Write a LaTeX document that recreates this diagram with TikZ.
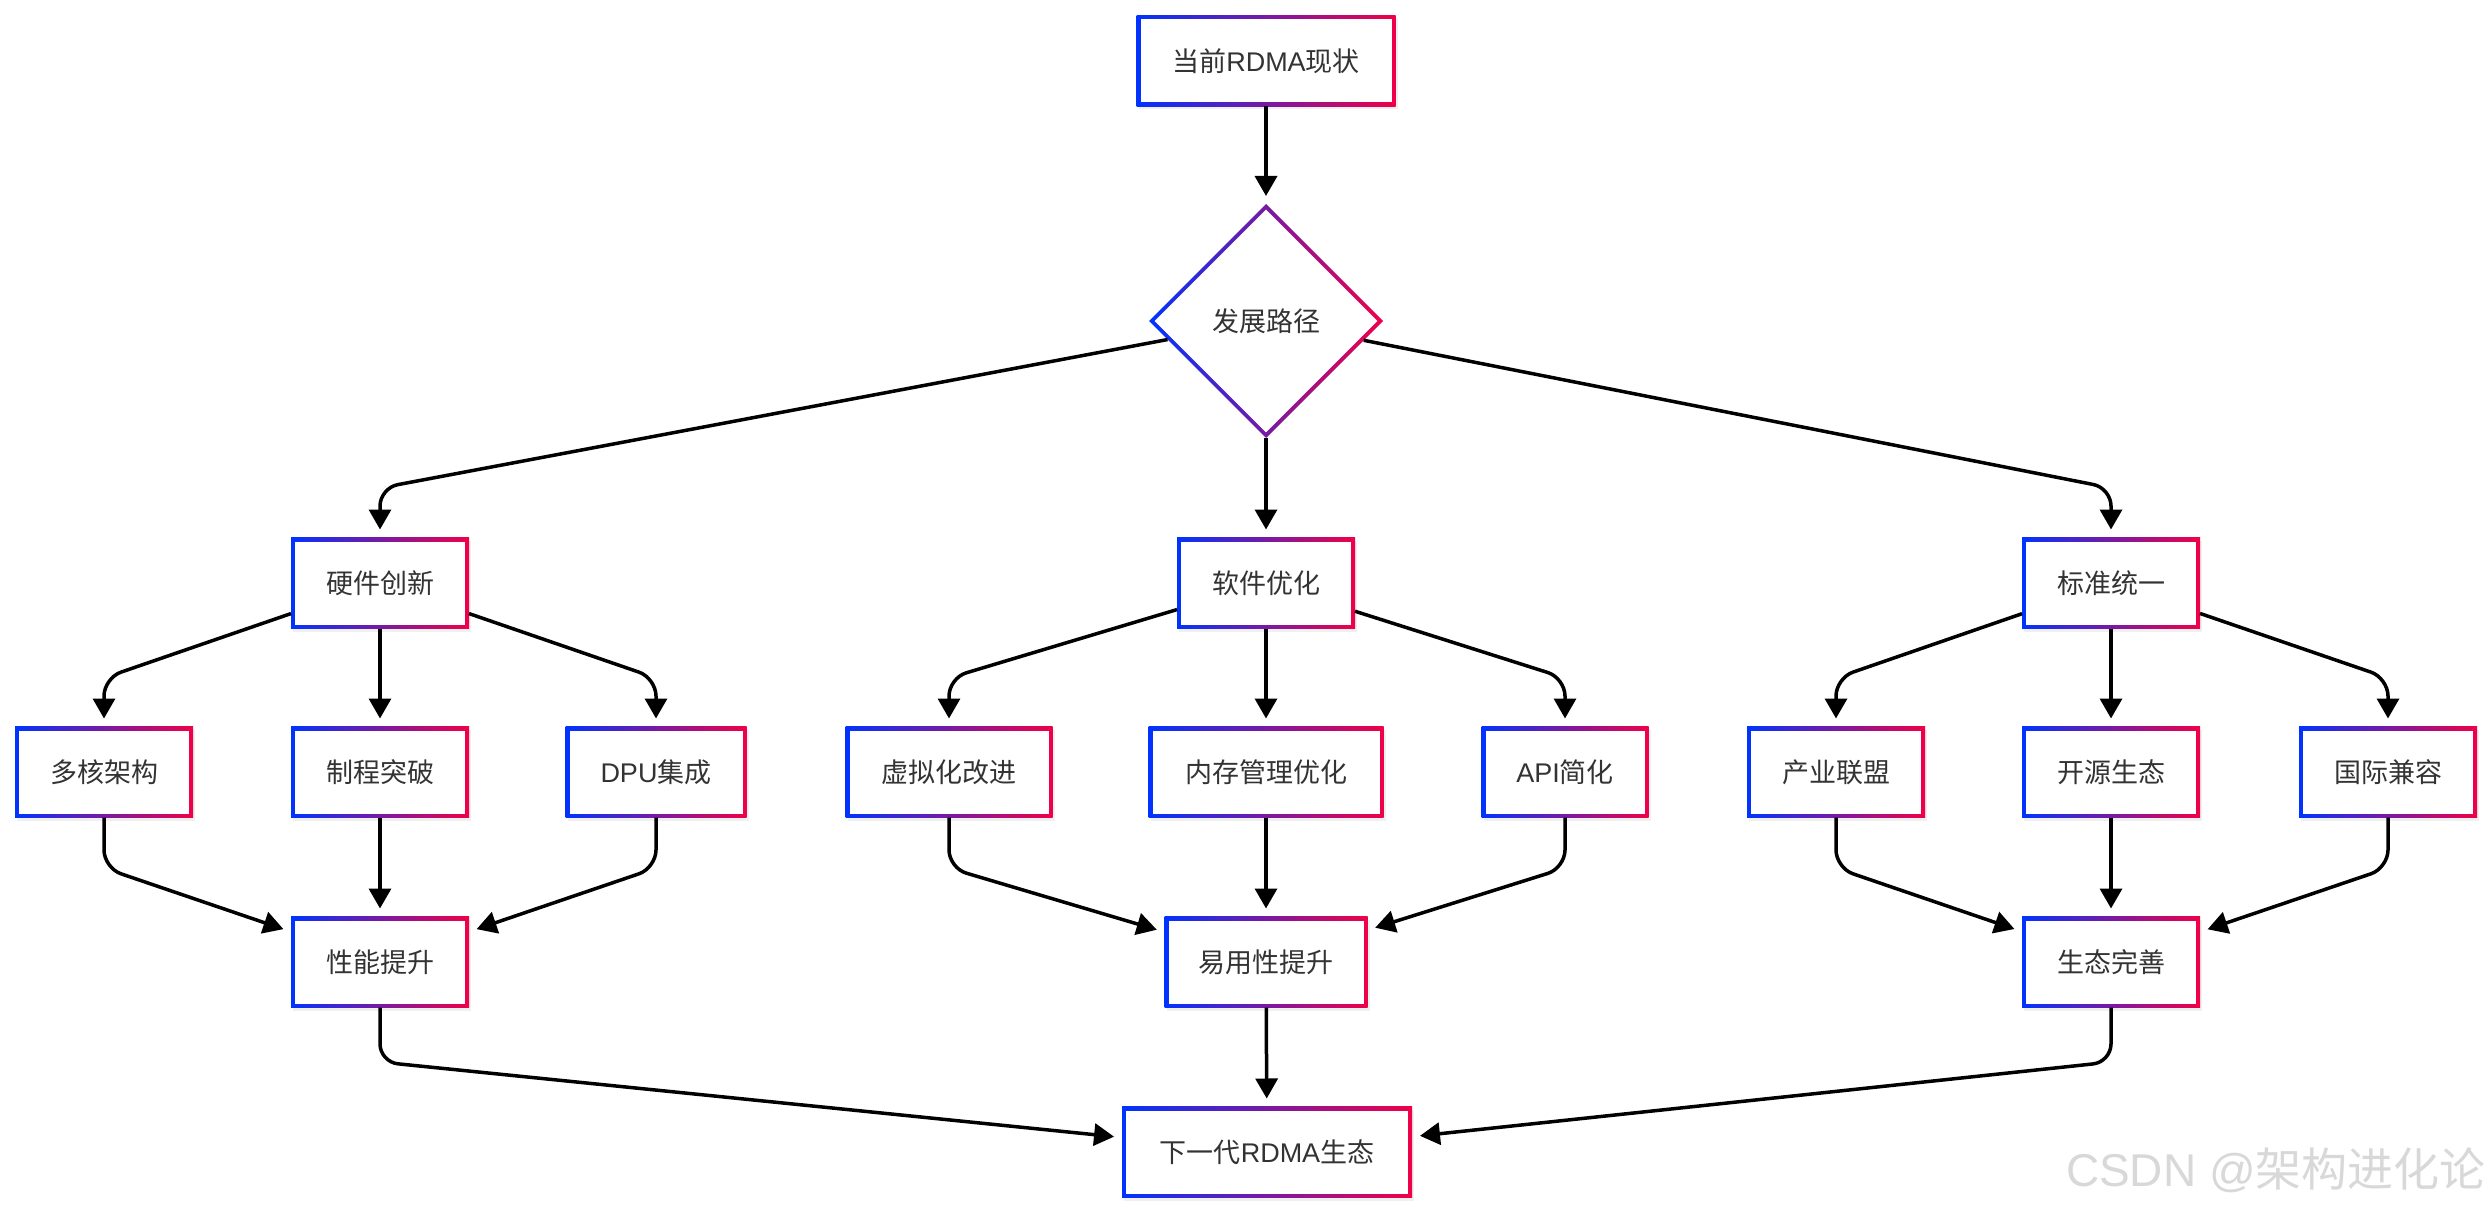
\documentclass[tikz,border=0pt]{standalone}
\usepackage{fontspec}
\setmainfont{Liberation Sans}
\newfontfamily\cjk{Noto Sans CJK SC}
\usetikzlibrary{arrows.meta,shapes.geometric,shadows}
\definecolor{gblue}{RGB}{0,51,255}
\definecolor{gred}{RGB}{240,0,72}
\definecolor{txt}{RGB}{51,51,51}
\definecolor{wmark}{RGB}{216,216,216}
\newcommand{\zh}[1]{{\cjk #1}}
\begin{document}
\begin{tikzpicture}[x=1pt,y=-1pt,
  box/.style={rectangle, minimum height=91pt, minimum width=#1, inner sep=0pt, outer sep=0pt,
    left color=gblue, right color=gred, text=txt,
    font=\fontsize{27pt}{32pt}\selectfont,
    drop shadow={shadow xshift=2pt, shadow yshift=-3pt, opacity=0.12},
    path picture={\fill[white] ([xshift=4pt,yshift=4pt]path picture bounding box.south west)
      rectangle ([xshift=-4pt,yshift=-4pt]path picture bounding box.north east);}},
  box/.default=178pt,
  decision/.style={diamond, aspect=1, minimum width=234pt, minimum height=234pt, inner sep=0pt, outer sep=0pt,
    left color=gblue, right color=gred, text=txt,
    font=\fontsize{27pt}{32pt}\selectfont,
    path picture={\fill[white] ([yshift=-5.7pt]path picture bounding box.north)
      -- ([xshift=-5.7pt]path picture bounding box.east)
      -- ([yshift=5.7pt]path picture bounding box.south)
      -- ([xshift=5.7pt]path picture bounding box.west) -- cycle;}},
  edge/.style={draw=black, line width=3.5pt, rounded corners=18pt,
    -{Triangle[width=22pt,length=20pt]}, shorten >=8pt}
]
\useasboundingbox (0,0) rectangle (2492,1214);

% nodes
\node[box=259pt] (top) at (1266,61) {\zh{当前}RDMA\zh{现状}};
\node[decision] (dia) at (1266,321) {\zh{发展路径}};

\node[box] (hw) at (380,583) {\zh{硬件创新}};
\node[box] (sw) at (1266,583) {\zh{软件优化}};
\node[box] (std) at (2111,583) {\zh{标准统一}};

\node[box] (mc) at (104,772) {\zh{多核架构}};
\node[box] (ce) at (380,772) {\zh{制程突破}};
\node[box=181pt] (dpu) at (656,772) {DPU\zh{集成}};
\node[box=207pt] (vi) at (949,772) {\zh{虚拟化改进}};
\node[box=235pt] (mem) at (1266,772) {\zh{内存管理优化}};
\node[box=167pt] (api) at (1565,772) {API\zh{简化}};
\node[box] (ind) at (1836,772) {\zh{产业联盟}};
\node[box] (os) at (2111,772) {\zh{开源生态}};
\node[box] (intl) at (2388,772) {\zh{国际兼容}};

\node[box] (perf) at (380,962) {\zh{性能提升}};
\node[box=203pt] (ease) at (1266,962) {\zh{易用性提升}};
\node[box] (eco) at (2111,962) {\zh{生态完善}};

\node[box=290pt] (next) at (1267,1152) {\zh{下一代}RDMA\zh{生态}};

\node[anchor=east, text=wmark, inner sep=0pt, font=\fontsize{46pt}{52pt}\selectfont] (wm) at (2486,1170) {CSDN @\zh{架构进化论}};

% edges
\draw[edge] (top) -- (dia);
\draw[edge] (dia) -- (380,488) -- (hw);
\draw[edge] (dia) -- (sw);
\draw[edge] (dia) -- (2111,488) -- (std);

\draw[edge] (hw) -- (104,678) -- (mc);
\draw[edge] (hw) -- (ce);
\draw[edge] (hw) -- (656,678) -- (dpu);
\draw[edge] (sw) -- (949,678) -- (vi);
\draw[edge] (sw) -- (mem);
\draw[edge] (sw) -- (1565,678) -- (api);
\draw[edge] (std) -- (1836,678) -- (ind);
\draw[edge] (std) -- (os);
\draw[edge] (std) -- (2388,678) -- (intl);

\draw[edge] (mc) -- (104,868) -- (perf);
\draw[edge] (ce) -- (perf);
\draw[edge] (dpu) -- (656,868) -- (perf);
\draw[edge] (vi) -- (949,868) -- (ease);
\draw[edge] (mem) -- (ease);
\draw[edge] (api) -- (1565,868) -- (ease);
\draw[edge] (ind) -- (1836,868) -- (eco);
\draw[edge] (os) -- (eco);
\draw[edge] (intl) -- (2388,868) -- (eco);

\draw[edge] (perf) -- (380,1062) -- (next);
\draw[edge] (ease) -- (next);
\draw[edge] (eco) -- (2111,1062) -- (next);
\end{tikzpicture}
\end{document}
